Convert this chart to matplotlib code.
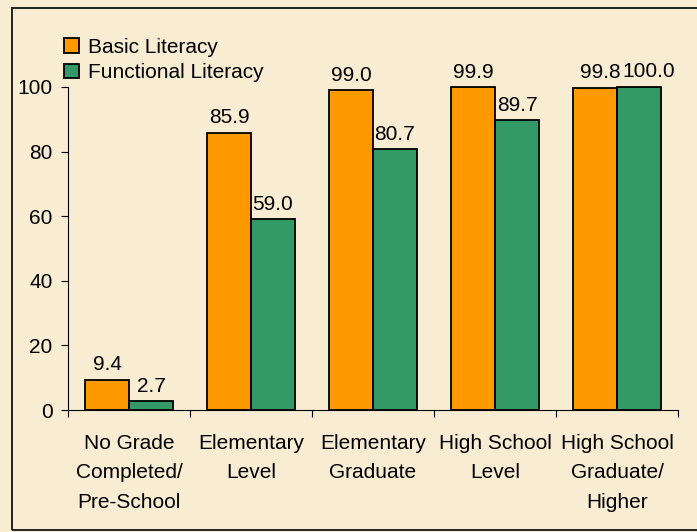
import matplotlib.pyplot as plt
import numpy as np

categories = ["No Grade\nCompleted/\nPre-School", "Elementary\nLevel",
              "Elementary\nGraduate", "High School\nLevel",
              "High School\nGraduate/\nHigher"]
basic = [9.4, 85.9, 99.0, 99.9, 99.8]
functional = [2.7, 59.0, 80.7, 89.7, 100.0]

plt.rcParams['font.family'] = ['Liberation Sans', 'DejaVu Sans']
fs = 15

bg = '#F8ECD2'
fig = plt.figure(figsize=(6.97, 5.32), dpi=100, facecolor=bg)
fig.add_artist(plt.Rectangle((12 / 697, 2 / 532), 1.0, 1 - 10 / 532,
                             transform=fig.transFigure, fill=False,
                             edgecolor='black', linewidth=1.2))

ax = fig.add_axes([68 / 697, 1 - 410 / 532, 610 / 697, 323 / 532])
ax.set_facecolor(bg)

x = np.arange(len(categories))
w = 0.36
b1 = ax.bar(x - w / 2, basic, w, color='#FF9900', edgecolor='black',
            linewidth=1.3, label='Basic Literacy', clip_on=False)
b2 = ax.bar(x + w / 2, functional, w, color='#339966', edgecolor='black',
            linewidth=1.3, label='Functional Literacy', clip_on=False)

# value labels; the last pair is nudged apart like Excel does
for i in range(len(categories)):
    shift = (4, 7) if i == len(categories) - 1 else (0, 0)
    for rect, v, dx in ((b1[i], basic[i], shift[0]), (b2[i], functional[i], shift[1])):
        ax.annotate(f"{v:.1f}", (rect.get_x() + rect.get_width() / 2, v),
                    xytext=(dx, 4), textcoords='offset points',
                    ha='center', va='bottom', fontsize=fs)

ax.set_xlim(-0.5, len(categories) - 0.5)
ax.set_ylim(0, 100)
ax.set_yticks([0, 20, 40, 60, 80, 100])
ax.tick_params(axis='y', labelsize=fs, direction='out', length=5, width=0.8, pad=6)
ax.set_xticks(np.arange(len(categories) + 1) - 0.5)
ax.set_xticklabels([])
ax.set_xticks(x, minor=True)
ax.set_xticklabels(categories, minor=True, fontsize=fs, linespacing=1.72)
ax.tick_params(axis='x', which='major', direction='out', length=5, width=0.8)
ax.tick_params(axis='x', which='minor', length=0, pad=17)

for s in ['top', 'right']:
    ax.spines[s].set_visible(False)
ax.spines['left'].set_linewidth(0.8)
ax.spines['bottom'].set_linewidth(0.8)

leg = ax.legend(loc='upper left', bbox_to_anchor=(64 / 697, 1 - 38 / 532),
                bbox_transform=fig.transFigure, frameon=False,
                fontsize=fs, handlelength=0.7, handleheight=0.7,
                handletextpad=0.45, labelspacing=0.3, borderaxespad=0,
                borderpad=0)

fig.savefig('out.png', dpi=100, facecolor=bg)
